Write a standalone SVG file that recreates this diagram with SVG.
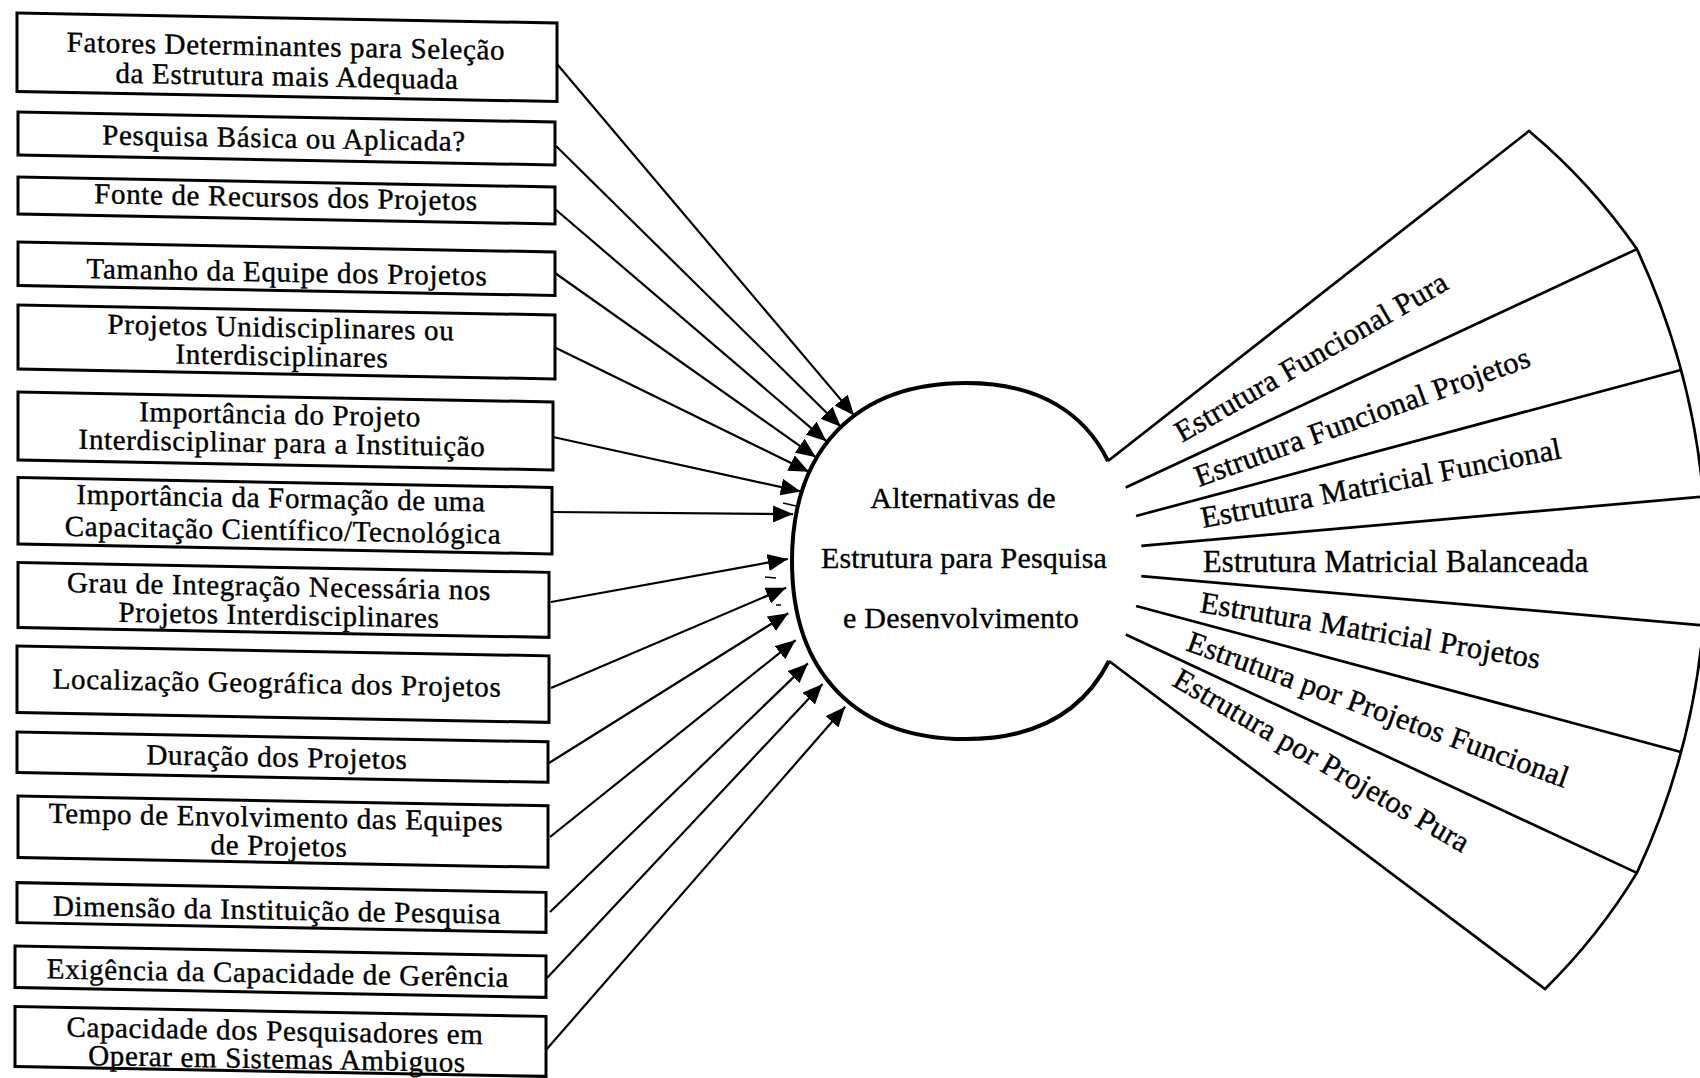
<svg xmlns="http://www.w3.org/2000/svg" width="1700" height="1078" viewBox="0 0 1700 1078">
  <defs>
    <marker id="arrow" markerUnits="userSpaceOnUse" markerWidth="20" markerHeight="17" viewBox="0 0 20 17" refX="20" refY="8.5" orient="auto">
      <path d="M0,0 L20,8.5 L0,17 Z" fill="#000"/>
    </marker>
    <style>
      .box { fill: #fff; stroke: #000; stroke-width: 3; }
      .t { font-family: 'Liberation Serif', 'Times New Roman', serif; font-size: 29px; letter-spacing: 0.65px; fill: #000; stroke: #000; stroke-width: 0.4; text-anchor: middle; }
      .ct { font-family: 'Liberation Serif', 'Times New Roman', serif; font-size: 30px; letter-spacing: 0.2px; fill: #000; stroke: #000; stroke-width: 0.35; text-anchor: middle; }
      .ft { font-family: 'Liberation Serif', 'Times New Roman', serif; font-size: 30.5px; letter-spacing: 0.2px; fill: #000; stroke: #000; stroke-width: 0.4; }
      .link { stroke: #000; stroke-width: 2.2; fill: none; marker-end: url(#arrow); }
      .ring { fill: none; stroke: #000; stroke-width: 4; }
      .fan { fill: none; stroke: #000; stroke-width: 2.7; }
      .mark { stroke: #000; stroke-width: 1.5; }
    </style>
  </defs>

  <rect x="0" y="0" width="1700" height="1078" fill="#fff"/>

  <!-- factor boxes (the sheet is slightly skewed) -->
  <g id="factors" transform="skewY(1.06)">
    <g id="f01"><rect class="box" x="17" y="12.7" width="540" height="78.5"/>
      <text class="t" x="286" y="50.5">Fatores Determinantes para Seleção</text>
      <text class="t" x="287" y="80.5">da Estrutura mais Adequada</text></g>
    <g id="f02"><rect class="box" x="18" y="111.7" width="537" height="43"/>
      <text class="t" x="284" y="142.5">Pesquisa Básica ou Aplicada?</text></g>
    <g id="f03"><rect class="box" x="18" y="176.7" width="537" height="37"/>
      <text class="t" x="286" y="201.5">Fonte de Recursos dos Projetos</text></g>
    <g id="f04"><rect class="box" x="18" y="241.7" width="537" height="43.5"/>
      <text class="t" x="287" y="276.5">Tamanho da Equipe dos Projetos</text></g>
    <g id="f05"><rect class="box" x="18" y="304.7" width="537" height="64"/>
      <text class="t" x="281" y="331.8">Projetos Unidisciplinares ou</text>
      <text class="t" x="282" y="360.3">Interdisciplinares</text></g>
    <g id="f06"><rect class="box" x="18" y="391.7" width="535" height="68"/>
      <text class="t" x="280" y="418.8">Importância do Projeto</text>
      <text class="t" x="282" y="447.3">Interdisciplinar para a Instituição</text></g>
    <g id="f07"><rect class="box" x="18" y="477.2" width="534" height="66.5"/>
      <text class="t" x="281" y="502.5">Importância da Formação de uma</text>
      <text class="t" x="283" y="534.5">Capacitação Científico/Tecnológica</text></g>
    <g id="f08"><rect class="box" x="18" y="562.2" width="531" height="65"/>
      <text class="t" x="279" y="590.8">Grau de Integração Necessária nos</text>
      <text class="t" x="279" y="619.5">Projetos Interdisciplinares</text></g>
    <g id="f09"><rect class="box" x="17" y="645.7" width="532" height="66.5"/>
      <text class="t" x="277" y="687.5">Localização Geográfica dos Projetos</text></g>
    <g id="f10"><rect class="box" x="17" y="731.7" width="531" height="40.5"/>
      <text class="t" x="277" y="761.5">Duração dos Projetos</text></g>
    <g id="f11"><rect class="box" x="18" y="795.7" width="530" height="61.5"/>
      <text class="t" x="276" y="821.8">Tempo de Envolvimento das Equipes</text>
      <text class="t" x="279" y="850.3">de Projetos</text></g>
    <g id="f12"><rect class="box" x="17" y="882.3" width="529" height="40"/>
      <text class="t" x="277" y="914.5">Dimensão da Instituição de Pesquisa</text></g>
    <g id="f13"><rect class="box" x="15" y="945.8" width="531" height="41.5"/>
      <text class="t" x="278" y="977.5">Exigência da Capacidade de Gerência</text></g>
    <g id="f14"><rect class="box" x="15" y="1006.3" width="531" height="60"/>
      <text class="t" x="275" y="1035.3">Capacidade dos Pesquisadores em</text>
      <text class="t" x="277" y="1063.3">Operar em Sistemas Ambiguos</text></g>
  </g>

  <!-- arrows from each factor to the central circle -->
  <g id="connectors">
    <path class="link" d="M557,64 L854.1,415.4"/>
    <path class="link" d="M556,146 L840.8,426.7"/>
    <path class="link" d="M555,209 L826.4,441.2"/>
    <path class="link" d="M555,273 L816,457.3"/>
    <path class="link" d="M554,347 L808.9,471.8"/>
    <path class="link" d="M553,437 L800.7,491.4"/>
    <path class="link" d="M552,512 L793,514.1"/>
    <path class="link" d="M551,602 L787.8,559"/>
    <path class="link" d="M551,688 L786.1,587.7"/>
    <path class="link" d="M549,763 L788.3,613.2"/>
    <path class="link" d="M550,837 L795.6,640.1"/>
    <path class="link" d="M550,912 L807.9,663.4"/>
    <path class="link" d="M547,978 L822.5,684"/>
    <path class="link" d="M546,1050 L845.2,706.7"/>
  </g>

  <!-- small stray strokes beside the arrowheads -->
  <g id="marks">
    <line class="mark" x1="783" y1="503" x2="796" y2="506"/>
    <line class="mark" x1="765" y1="577" x2="776" y2="578"/>
    <line class="mark" x1="776" y1="605" x2="781" y2="605"/>
  </g>

  <!-- central circle -->
  <g id="center">
    <path class="ring" d="M1108,461 C1085,414 1040,383 966,383 C856.4,383 792,448.9 792,561 C792,673.1 856.4,739 966,739 C1040,739 1085,708 1109,661"/>
    <text class="ct" x="963" y="508">Alternativas de</text>
    <text class="ct" x="964" y="568">Estrutura para Pesquisa</text>
    <text class="ct" x="961" y="628">e Desenvolvimento</text>
  </g>

  <!-- fan of structure alternatives -->
  <g id="alternatives">
    <path class="fan" d="M1108,461 L1529,131 A600,600 0 0 1 1636.9,249.1 A738,738 0 0 1 1636.9,872.9 A600,600 0 0 1 1545,989 L1109,661"/>
    <path class="fan" d="M1125.7,487.5 L1636.9,249.1"/>
    <path class="fan" d="M1136.1,516 L1680.9,370"/>
    <path class="fan" d="M1141.3,545.8 L1703.2,496.7"/>
    <path class="fan" d="M1141.3,576.2 L1703.2,625.3"/>
    <path class="fan" d="M1136.1,606 L1680.9,752"/>
    <path class="fan" d="M1125.7,634.5 L1636.9,872.9"/>
    <g id="a1"><text class="ft" transform="translate(1182,443) rotate(-30)">Estrutura Funcional Pura</text></g>
    <g id="a2"><text class="ft" transform="translate(1199,487) rotate(-20)">Estrutura Funcional Projetos</text></g>
    <g id="a3"><text class="ft" transform="translate(1203,528) rotate(-11)">Estrutura Matricial Funcional</text></g>
    <g id="a4"><text class="ft" transform="translate(1203,572)">Estrutura Matricial Balanceada</text></g>
    <g id="a5"><text class="ft" transform="translate(1199,612) rotate(9.5)">Estrutura Matricial Projetos</text></g>
    <g id="a6"><text class="ft" transform="translate(1185,650) rotate(20)">Estrutura por Projetos Funcional</text></g>
    <g id="a7"><text class="ft" transform="translate(1171,685) rotate(30)">Estrutura por Projetos Pura</text></g>
  </g>
</svg>
